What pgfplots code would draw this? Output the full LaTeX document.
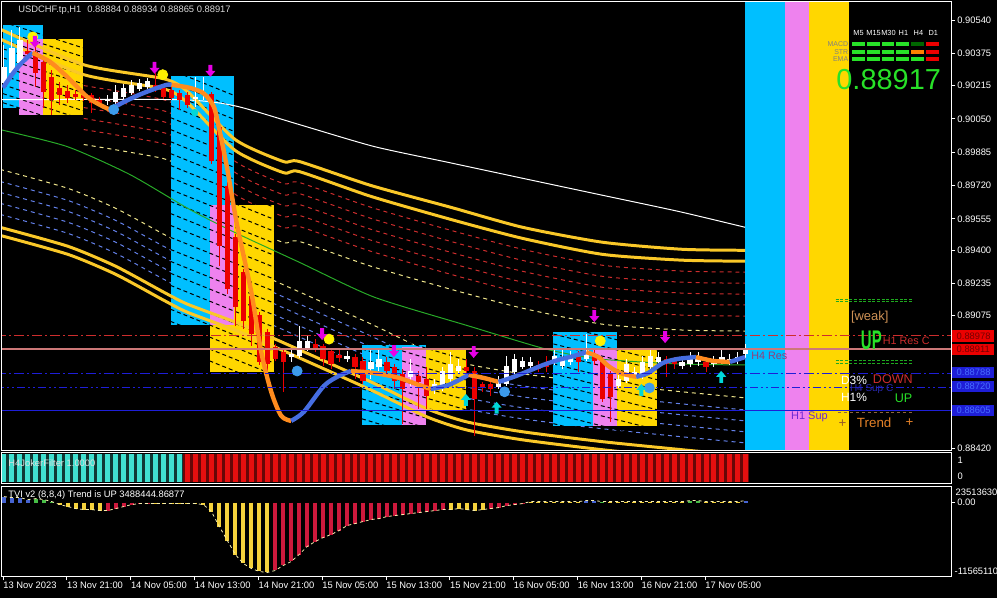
\documentclass[border=0pt]{standalone}
\usepackage{fontspec}
\setmainfont{Liberation Sans}
\usepackage{graphicx}
\usepackage{pgfplots}
\usepackage{pgfplotstable}
\pgfplotsset{compat=1.18}

\definecolor{bxc}{RGB}{0,191,255}
\definecolor{bxv}{RGB}{238,130,238}
\definecolor{bxy}{RGB}{255,215,0}
\definecolor{ythk}{RGB}{250,200,40}
\definecolor{cred}{RGB}{235,0,0}
\definecolor{amag}{RGB}{230,0,230}
\definecolor{mablue}{RGB}{70,110,225}
\definecolor{maorng}{RGB}{255,140,30}
\definecolor{rdash}{RGB}{205,45,45}
\definecolor{bdash}{RGB}{100,130,235}
\definecolor{ydash}{RGB}{240,230,140}
\definecolor{mgrn}{RGB}{40,170,40}
\definecolor{rosy}{RGB}{205,120,120}
\definecolor{lblue}{RGB}{30,30,215}
\definecolor{lgrn}{RGB}{40,225,40}
\definecolor{turq}{RGB}{64,224,208}
\definecolor{jred}{RGB}{230,15,15}
\definecolor{tyel}{RGB}{245,210,60}
\definecolor{tred}{RGB}{205,25,60}
\definecolor{tblu}{RGB}{70,100,210}
\definecolor{tgrn}{RGB}{70,190,70}
\definecolor{dotb}{RGB}{60,155,235}
\definecolor{acyan}{RGB}{0,215,215}
\definecolor{brdash}{RGB}{140,100,60}
\definecolor{weakc}{RGB}{205,145,85}
\definecolor{h4res}{RGB}{150,60,120}
\definecolor{h4sup}{RGB}{40,40,170}
\definecolor{h1sup}{RGB}{110,40,210}
\definecolor{trendc}{RGB}{230,130,40}
\definecolor{plusdim}{RGB}{150,90,40}
\definecolor{tagblue}{RGB}{70,110,255}

\newcommand\sm{\fontsize{4.7}{5.5}\selectfont}

\pgfdeclareplotmark{darrow}{%
  \pgfpathmoveto{\pgfpoint{-0.32\pgfplotmarksize}{\pgfplotmarksize}}%
  \pgfpathlineto{\pgfpoint{0.32\pgfplotmarksize}{\pgfplotmarksize}}%
  \pgfpathlineto{\pgfpoint{0.32\pgfplotmarksize}{0pt}}%
  \pgfpathlineto{\pgfpoint{0.85\pgfplotmarksize}{0pt}}%
  \pgfpathlineto{\pgfpoint{0pt}{-\pgfplotmarksize}}%
  \pgfpathlineto{\pgfpoint{-0.85\pgfplotmarksize}{0pt}}%
  \pgfpathlineto{\pgfpoint{-0.32\pgfplotmarksize}{0pt}}%
  \pgfpathclose\pgfusepathqfill}
\pgfdeclareplotmark{uarrow}{%
  \pgfpathmoveto{\pgfpoint{-0.32\pgfplotmarksize}{-\pgfplotmarksize}}%
  \pgfpathlineto{\pgfpoint{0.32\pgfplotmarksize}{-\pgfplotmarksize}}%
  \pgfpathlineto{\pgfpoint{0.32\pgfplotmarksize}{0pt}}%
  \pgfpathlineto{\pgfpoint{0.85\pgfplotmarksize}{0pt}}%
  \pgfpathlineto{\pgfpoint{0pt}{\pgfplotmarksize}}%
  \pgfpathlineto{\pgfpoint{-0.85\pgfplotmarksize}{0pt}}%
  \pgfpathlineto{\pgfpoint{-0.32\pgfplotmarksize}{0pt}}%
  \pgfpathclose\pgfusepathqfill}

% up (white) candles: body low/high, wick low/high
\pgfplotstableread{
i bl bt wl wh
0 0.90229 0.90308 0.90204 0.90417
1 0.90278 0.90402 0.90254 0.90491
2 0.90328 0.90441 0.90313 0.90506
13 0.90140 0.90150 0.90120 0.90170
14 0.90135 0.90185 0.90125 0.90219
15 0.90160 0.90204 0.90150 0.90224
16 0.90180 0.90219 0.90170 0.90244
17 0.90199 0.90229 0.90189 0.90249
18 0.90209 0.90239 0.90199 0.90254
24 0.90150 0.90160 0.90110 0.90259
25 0.90175 0.90185 0.90145 0.90259
36 0.88870 0.88885 0.88846 0.88910
37 0.88875 0.88950 0.88866 0.89024
38 0.88910 0.88950 0.88900 0.88974
43 0.88861 0.88875 0.88846 0.88900
46 0.88811 0.88846 0.88762 0.88910
47 0.88821 0.88861 0.88801 0.88910
51 0.88772 0.88801 0.88727 0.88861
54 0.88712 0.88737 0.88688 0.88762
55 0.88727 0.88801 0.88703 0.88821
56 0.88762 0.88836 0.88747 0.88895
57 0.88801 0.88826 0.88787 0.88861
62 0.88722 0.88752 0.88712 0.88777
63 0.88737 0.88826 0.88727 0.88875
64 0.88796 0.88861 0.88787 0.88885
65 0.88821 0.88851 0.88811 0.88870
66 0.88826 0.88846 0.88811 0.88870
69 0.88846 0.88875 0.88831 0.88910
70 0.88826 0.88861 0.88811 0.88910
71 0.88846 0.88875 0.88831 0.88900
73 0.88861 0.88910 0.88851 0.88984
77 0.88727 0.88762 0.88717 0.88782
78 0.88752 0.88836 0.88742 0.88861
79 0.88772 0.88796 0.88762 0.88821
80 0.88777 0.88846 0.88762 0.88875
81 0.88821 0.88875 0.88811 0.88910
82 0.88846 0.88870 0.88831 0.88895
85 0.88826 0.88846 0.88811 0.88870
86 0.88836 0.88861 0.88821 0.88895
87 0.88846 0.88861 0.88826 0.88895
89 0.88836 0.88851 0.88821 0.88875
90 0.88851 0.88870 0.88836 0.88910
91 0.88846 0.88861 0.88831 0.88885
92 0.88851 0.88870 0.88836 0.88895
93 0.88884 0.88917 0.88865 0.88934
}\upc

% down (red) candles
\pgfplotstableread{
i bl bt wl wh
3 0.90372 0.90387 0.90343 0.90441
4 0.90278 0.90382 0.90209 0.90441
5 0.90185 0.90333 0.90106 0.90352
6 0.90145 0.90259 0.90071 0.90293
7 0.90170 0.90204 0.90120 0.90234
8 0.90155 0.90189 0.90130 0.90219
9 0.90160 0.90175 0.90145 0.90194
10 0.90155 0.90170 0.90140 0.90185
11 0.90130 0.90170 0.90081 0.90180
12 0.90130 0.90145 0.90115 0.90160
19 0.90209 0.90219 0.90185 0.90278
20 0.90160 0.90204 0.90150 0.90224
21 0.90155 0.90194 0.90145 0.90214
22 0.90145 0.90180 0.90096 0.90194
23 0.90120 0.90170 0.90106 0.90185
26 0.89839 0.90175 0.89824 0.90185
27 0.89419 0.90012 0.89320 0.90022
28 0.89206 0.89715 0.89182 0.89735
29 0.89118 0.89463 0.89024 0.89478
30 0.89048 0.89290 0.89009 0.89305
31 0.88984 0.89172 0.88925 0.89182
32 0.88846 0.89078 0.88831 0.89093
33 0.88836 0.88994 0.88777 0.89009
34 0.88861 0.88920 0.88851 0.88935
35 0.88846 0.88895 0.88698 0.88910
39 0.88910 0.88935 0.88895 0.88959
40 0.88861 0.88925 0.88826 0.88935
41 0.88836 0.88900 0.88811 0.88910
42 0.88866 0.88880 0.88846 0.88910
44 0.88821 0.88870 0.88762 0.88885
45 0.88752 0.88851 0.88737 0.88870
48 0.88801 0.88846 0.88787 0.88870
49 0.88752 0.88821 0.88712 0.88836
50 0.88712 0.88787 0.88540 0.88811
52 0.88747 0.88777 0.88614 0.88801
53 0.88678 0.88762 0.88614 0.88821
58 0.88801 0.88821 0.88787 0.88861
59 0.88663 0.88801 0.88480 0.88821
60 0.88722 0.88737 0.88698 0.88747
61 0.88712 0.88737 0.88678 0.88747
67 0.88811 0.88831 0.88796 0.88851
68 0.88821 0.88836 0.88796 0.88875
72 0.88846 0.88870 0.88796 0.88900
74 0.88851 0.88875 0.88831 0.88910
75 0.88663 0.88851 0.88648 0.88870
76 0.88673 0.88787 0.88549 0.88801
83 0.88836 0.88861 0.88772 0.88875
84 0.88836 0.88851 0.88811 0.88870
88 0.88821 0.88846 0.88796 0.88870
}\dnc

% upper envelope: thick A,B and dashed levels
\pgfplotstableread{
x A B R1 R2 R3 R4 R5 F
-0.5 0.90495 0.90446 nan nan nan nan nan nan
10 0.90318 0.90269 0.90215 0.90160 0.90106 0.90052 0.89997 0.89923
20 0.90249 0.90199 0.90145 0.90090 0.90036 0.89982 0.89927 0.89853
23 0.90185 0.90130 0.90076 0.90021 0.89967 0.89913 0.89858 0.89784
29 0.89947 0.89893 0.89839 0.89784 0.89730 0.89676 0.89621 0.89547
35 0.89839 0.89784 0.89730 0.89675 0.89621 0.89567 0.89512 0.89438
37 0.89839 0.89789 0.89735 0.89680 0.89626 0.89572 0.89517 0.89443
46 0.89720 0.89666 0.89612 0.89557 0.89503 0.89449 0.89394 0.89320
56 0.89612 0.89552 0.89498 0.89443 0.89389 0.89335 0.89280 0.89206
65 0.89513 0.89458 0.89404 0.89349 0.89295 0.89241 0.89186 0.89112
75 0.89439 0.89379 0.89325 0.89270 0.89216 0.89162 0.89107 0.89033
85 0.89404 0.89350 0.89296 0.89241 0.89187 0.89133 0.89078 0.89004
92.9 0.89399 0.89345 0.89291 0.89236 0.89182 0.89128 0.89073 0.88999
}\upch

% lower envelope
\pgfplotstableread{
x E B1 B2 B3 B4 C D
-0.5 0.89800 0.89740 0.89686 0.89632 0.89577 0.89513 0.89473
8 0.89706 0.89646 0.89592 0.89538 0.89483 0.89419 0.89379
14 0.89607 0.89547 0.89493 0.89439 0.89384 0.89320 0.89280
20 0.89479 0.89419 0.89365 0.89311 0.89256 0.89192 0.89152
23 0.89419 0.89359 0.89305 0.89251 0.89196 0.89132 0.89092
29 0.89330 0.89270 0.89216 0.89162 0.89107 0.89043 0.89003
34 0.89246 0.89186 0.89132 0.89078 0.89023 0.88959 0.88919
46 0.89034 0.88974 0.88920 0.88866 0.88811 0.88747 0.88707
53 0.88901 0.88841 0.88787 0.88733 0.88678 0.88614 0.88574
58 0.88836 0.88776 0.88722 0.88668 0.88613 0.88549 0.88509
65 0.88787 0.88727 0.88673 0.88619 0.88564 0.88500 0.88460
75 0.88738 0.88678 0.88624 0.88570 0.88515 0.88451 0.88411
85 0.88698 0.88638 0.88584 0.88530 0.88475 0.88411 0.88371
92.9 0.88668 0.88608 0.88554 0.88500 0.88445 0.88381 0.88341
}\lowch

% TVI histogram, c: 1 yellow 2 red 3 blue 4 green
\pgfplotstableread{
i v c
0 991000 3
1 826000 3
2 826000 3
3 496000 3
4 661000 4
5 496000 4
6 165000 4
7 -330000 1
8 -661000 1
9 -991000 1
10 -1157000 1
11 -1157000 1
12 -1322000 1
13 -1322000 2
14 -991000 2
15 -661000 2
16 -330000 2
17 -165000 2
18 -165000 2
19 -165000 1
20 -165000 1
21 -165000 1
22 -165000 1
23 -165000 1
24 -165000 1
25 -330000 1
26 -1487000 1
27 -3965000 1
28 -6278000 1
29 -8591000 1
30 -10078000 1
31 -10904000 1
32 -11400000 1
33 -11565110 1
34 -11235000 2
35 -10409000 2
36 -9748000 2
37 -8591000 2
38 -7270000 2
39 -6443000 2
40 -5783000 2
41 -5287000 2
42 -4626000 2
43 -3800000 2
44 -3470000 2
45 -3139000 2
46 -2809000 2
47 -2643000 2
48 -2313000 2
49 -2148000 2
50 -1983000 2
51 -1817000 2
52 -1652000 2
53 -1487000 2
54 -1322000 2
55 -1157000 2
56 -1157000 1
57 -991000 1
58 -1157000 1
59 -1322000 1
60 -1157000 1
61 -991000 2
62 -826000 2
63 -496000 2
64 -330000 2
65 -165000 2
66 165000 1
67 165000 1
68 165000 1
69 165000 1
70 165000 1
71 165000 1
72 165000 1
73 330000 3
74 330000 3
75 165000 4
76 165000 1
77 165000 1
78 165000 1
79 165000 1
80 165000 1
81 165000 1
82 165000 1
83 165000 1
84 165000 1
85 165000 1
86 330000 4
87 330000 4
88 165000 1
89 165000 1
90 165000 1
91 165000 1
92 165000 1
93 330000 3
}\tvi

\pgfplotsset{mtpanel/.style={anchor=north west, scale only axis, width=476pt,
  xmin=-0.25, xmax=118.75, axis line style={white, line width=0.5pt},
  axis on top}}

\begin{document}
\begin{tikzpicture}
\fill[black] (0,0) rectangle (500pt,-300pt);

%%%%%%%% main price panel
\begin{axis}[mtpanel, at={(1pt,-1pt)}, height=225pt,
  ymin=0.88406, ymax=0.90629, unbounded coords=jump,
  xtick=\empty, ytick pos=right, yticklabel pos=right,
  ytick={0.88420,0.88585,0.88750,0.88915,0.89075,0.89235,0.89400,0.89555,0.89720,0.89885,0.90050,0.90215,0.90375,0.90540},
  yticklabels={0.88420,,,,0.89075,0.89235,0.89400,0.89555,0.89720,0.89885,0.90050,0.90215,0.90375,0.90540},
  tick align=outside, major tick length=2pt,
  ytick style={white, line width=0.4pt},
  yticklabel style={text=white, font=\sm, inner sep=0.8pt}]

% dashed envelope levels
\pgfplotsinvokeforeach{R1,R2,R3,R4,R5}{
  \addplot[rdash, line width=0.5pt, dash pattern=on 2pt off 2pt, smooth, tension=0.4] table[x=x, y=#1] {\upch};}
\addplot[ydash, line width=0.5pt, dash pattern=on 2pt off 2pt, smooth, tension=0.4] table[x=x, y=F] {\upch};
\addplot[ydash, line width=0.5pt, dash pattern=on 2pt off 2pt, smooth, tension=0.4] table[x=x, y=E] {\lowch};
\pgfplotsinvokeforeach{B1,B2,B3,B4}{
  \addplot[bdash, line width=0.5pt, dash pattern=on 2pt off 2pt, smooth, tension=0.4] table[x=x, y=#1] {\lowch};}

% boxes
\addplot[fill=bxc, draw=none] coordinates {(-0.125,0.90515) (4.875,0.90515) (4.875,0.90106) (-0.125,0.90106)};
\addplot[fill=bxy, draw=none] coordinates {(1.875,0.90446) (9.875,0.90446) (9.875,0.90071) (1.875,0.90071)};
\addplot[fill=bxv, draw=none] coordinates {(1.875,0.90446) (4.875,0.90446) (4.875,0.90071) (1.875,0.90071)};
\addplot[fill=bxc, draw=none] coordinates {(20.875,0.90264) (28.875,0.90264) (28.875,0.89029) (20.875,0.89029)};
\addplot[fill=bxy, draw=none] coordinates {(25.875,0.89621) (33.875,0.89621) (33.875,0.88796) (25.875,0.88796)};
\addplot[fill=bxv, draw=none] coordinates {(25.875,0.89621) (28.875,0.89621) (28.875,0.89029) (25.875,0.89029)};
\addplot[fill=bxc, draw=none] coordinates {(44.875,0.88930) (52.875,0.88930) (52.875,0.88535) (44.875,0.88535)};
\addplot[fill=bxy, draw=none] coordinates {(49.875,0.88915) (57.875,0.88915) (57.875,0.88609) (49.875,0.88609)};
\addplot[fill=bxv, draw=none] coordinates {(49.875,0.88920) (52.875,0.88920) (52.875,0.88535) (49.875,0.88535)};
\addplot[fill=bxc, draw=none] coordinates {(68.875,0.88994) (76.875,0.88994) (76.875,0.88530) (68.875,0.88530)};
\addplot[fill=bxy, draw=none] coordinates {(73.875,0.88910) (81.875,0.88910) (81.875,0.88530) (73.875,0.88530)};
\addplot[fill=bxv, draw=none] coordinates {(73.875,0.88910) (76.875,0.88910) (76.875,0.88530) (73.875,0.88530)};
% right-hand bands
\addplot[fill=bxc, draw=none] coordinates {(92.875,0.8830) (97.875,0.8830) (97.875,0.9070) (92.875,0.9070)};
\addplot[fill=bxv, draw=none] coordinates {(97.875,0.8830) (100.875,0.8830) (100.875,0.9070) (97.875,0.9070)};
\addplot[fill=bxy, draw=none] coordinates {(100.875,0.8830) (105.875,0.8830) (105.875,0.9070) (100.875,0.9070)};

% dark level lines inside the boxes
\addplot[black, line width=0.5pt, dash pattern=on 2pt off 1.5pt] coordinates {
(-0.125,0.90530) (9.875,0.90402) (0,nan) (-0.125,0.90486) (9.875,0.90358) (0,nan)
(-0.125,0.90441) (9.875,0.90313) (0,nan) (-0.125,0.90397) (9.875,0.90269) (0,nan)
(-0.125,0.90352) (9.875,0.90224) (0,nan) (-0.125,0.90308) (9.875,0.90180) (0,nan)
(-0.125,0.90264) (9.875,0.90136) (0,nan) (-0.125,0.90219) (9.875,0.90091) (0,nan)
(-0.125,0.90175) (9.875,0.90047) (0,nan) (-0.125,0.90130) (9.875,0.90002)};
\addplot[black, line width=0.5pt, dash pattern=on 2pt off 1.5pt] coordinates {
(20.875,0.90293) (33.875,0.90086) (0,nan) (20.875,0.90234) (33.875,0.90027) (0,nan)
(20.875,0.90175) (33.875,0.89968) (0,nan) (20.875,0.90115) (33.875,0.89908) (0,nan)
(20.875,0.90056) (33.875,0.89849) (0,nan) (20.875,0.89997) (33.875,0.89790) (0,nan)
(20.875,0.89937) (33.875,0.89730) (0,nan) (20.875,0.89878) (33.875,0.89671) (0,nan)
(20.875,0.89819) (33.875,0.89612) (0,nan) (20.875,0.89759) (33.875,0.89552) (0,nan)
(20.875,0.89700) (33.875,0.89493) (0,nan) (20.875,0.89641) (33.875,0.89434) (0,nan)
(20.875,0.89581) (33.875,0.89374) (0,nan) (20.875,0.89522) (33.875,0.89315) (0,nan)
(20.875,0.89463) (33.875,0.89256) (0,nan) (20.875,0.89403) (33.875,0.89196) (0,nan)
(20.875,0.89344) (33.875,0.89137) (0,nan) (20.875,0.89285) (33.875,0.89078) (0,nan)
(20.875,0.89225) (33.875,0.89018) (0,nan) (20.875,0.89166) (33.875,0.88959) (0,nan)
(20.875,0.89107) (33.875,0.88900) (0,nan) (20.875,0.89047) (33.875,0.88840) (0,nan)
(20.875,0.88988) (33.875,0.88781) (0,nan) (20.875,0.88929) (33.875,0.88722)};
\addplot[black, line width=0.5pt, dash pattern=on 2pt off 1.5pt] coordinates {
(44.875,0.89009) (57.875,0.88856) (0,nan) (44.875,0.88960) (57.875,0.88807) (0,nan)
(44.875,0.88910) (57.875,0.88757) (0,nan) (44.875,0.88861) (57.875,0.88708) (0,nan)
(44.875,0.88811) (57.875,0.88658) (0,nan) (44.875,0.88762) (57.875,0.88609) (0,nan)
(44.875,0.88713) (57.875,0.88560) (0,nan) (44.875,0.88663) (57.875,0.88510) (0,nan)
(44.875,0.88614) (57.875,0.88461) (0,nan) (44.875,0.88564) (57.875,0.88411)};
\addplot[black, line width=0.5pt, dash pattern=on 2pt off 1.5pt] coordinates {
(68.875,0.89034) (81.875,0.88906) (0,nan) (68.875,0.88984) (81.875,0.88856) (0,nan)
(68.875,0.88935) (81.875,0.88807) (0,nan) (68.875,0.88886) (81.875,0.88758) (0,nan)
(68.875,0.88836) (81.875,0.88708) (0,nan) (68.875,0.88787) (81.875,0.88659) (0,nan)
(68.875,0.88737) (81.875,0.88609) (0,nan) (68.875,0.88688) (81.875,0.88560) (0,nan)
(68.875,0.88638) (81.875,0.88510) (0,nan) (68.875,0.88589) (81.875,0.88461) (0,nan)
(68.875,0.88540) (81.875,0.88412)};

% moving averages
\addplot[white, line width=0.5pt, smooth, tension=0.4] coordinates {(-0.5,0.90145) (22,0.90145) (28.9,0.90115) (37,0.90022) (46.4,0.89913) (55.75,0.89834) (64.5,0.89760) (74.5,0.89676) (84.5,0.89592) (92.9,0.89513)};
\addplot[mgrn, line width=0.5pt, smooth, tension=0.4] coordinates {(-0.5,0.89997) (7.9,0.89913) (15.75,0.89775) (23.25,0.89602) (28.9,0.89488) (37,0.89340) (46.4,0.89167) (58.25,0.89024) (67.9,0.88910) (74.5,0.88861) (84.5,0.88836) (92.9,0.88831)};
\pgfplotsinvokeforeach{A,B}{
  \addplot[ythk, line width=1.5pt, smooth, tension=0.4] table[x=x, y=#1] {\upch};}
\pgfplotsinvokeforeach{C,D}{
  \addplot[ythk, line width=1.5pt, smooth, tension=0.4] table[x=x, y=#1] {\lowch};}

% candles
\addplot[draw=none, mark=none, error bars/.cd, y dir=plus, y explicit, error mark=none,
  error bar style={draw=white, line width=0.5pt, solid}] table[x=i, y=wl, y error expr=\thisrow{wh}-\thisrow{wl}] {\upc};
\addplot[draw=none, mark=none, error bars/.cd, y dir=plus, y explicit, error mark=none,
  error bar style={draw=white, line width=2.6pt, solid}] table[x=i, y=bl, y error expr=\thisrow{bt}-\thisrow{bl}] {\upc};
\addplot[draw=none, mark=none, error bars/.cd, y dir=plus, y explicit, error mark=none,
  error bar style={draw=cred, line width=0.5pt, solid}] table[x=i, y=wl, y error expr=\thisrow{wh}-\thisrow{wl}] {\dnc};
\addplot[draw=none, mark=none, error bars/.cd, y dir=plus, y explicit, error mark=none,
  error bar style={draw=cred, line width=2.6pt, solid}] table[x=i, y=bl, y error expr=\thisrow{bt}-\thisrow{bl}] {\dnc};

% two-colour trend line
\addplot[mablue, line width=2.2pt, smooth] coordinates {(-0.125,0.90204) (1,0.90269) (2,0.90318) (3,0.90357) (3.6,0.90377)};
\addplot[maorng, line width=2.2pt, smooth] coordinates {(3.6,0.90377) (5.75,0.90333) (7.9,0.90259) (10.4,0.90160) (12,0.90120) (13.25,0.90096)};
\addplot[mablue, line width=2.2pt, smooth] coordinates {(13.25,0.90096) (15.1,0.90135) (17,0.90170) (18.9,0.90199) (20.4,0.90219) (21,0.90219)};
\addplot[maorng, line width=2.2pt, smooth] coordinates {(21,0.90219) (23.25,0.90204) (24.9,0.90180) (25.75,0.90145) (26.4,0.90100) (27,0.89997) (28,0.89799) (29.25,0.89518) (31,0.89192) (32.25,0.88895) (33.5,0.88698) (34.75,0.88579) (36,0.88554)};
\addplot[mablue, line width=2.2pt, smooth] coordinates {(36,0.88554) (37.6,0.88599) (40.1,0.88727) (42,0.88777) (43.5,0.88801)};
\addplot[maorng, line width=2.2pt, smooth] coordinates {(43.5,0.88801) (46.4,0.88791) (49.5,0.88767) (52,0.88732) (53.5,0.88712)};
\addplot[mablue, line width=2.2pt, smooth] coordinates {(53.5,0.88712) (55.75,0.88732) (58.25,0.88782)};
\addplot[maorng, line width=2.2pt, smooth] coordinates {(58.25,0.88782) (60.1,0.88767) (62,0.88747)};
\addplot[mablue, line width=2.2pt, smooth] coordinates {(62,0.88747) (63.9,0.88772) (65.75,0.88801) (67.6,0.88831) (69.5,0.88856) (71.4,0.88875) (73,0.88895)};
\addplot[maorng, line width=2.2pt, smooth] coordinates {(73,0.88895) (74.5,0.88870) (75.75,0.88826) (77.25,0.88791) (79.25,0.88772)};
\addplot[mablue, line width=2.2pt, smooth] coordinates {(79.25,0.88772) (80.75,0.88791) (82.6,0.88841) (84.5,0.88861) (86.75,0.88870)};
\addplot[maorng, line width=2.2pt, smooth] coordinates {(86.75,0.88870) (88.9,0.88851) (91,0.88846)};
\addplot[mablue, line width=2.2pt, smooth] coordinates {(91,0.88846) (92.9,0.88870)};

% signals
\addplot[only marks, mark=*, mark size=2.5pt, yellow] coordinates {(3.6,0.90456) (19.9,0.90269) (40.75,0.88959) (74.75,0.88950)};
\addplot[only marks, mark=*, mark size=2.5pt, dotb] coordinates {(13.75,0.90096) (36.75,0.88801) (62.75,0.88698) (80.9,0.88717)};
\addplot[only marks, mark=*, mark size=1.6pt, acyan] coordinates {(23.9,0.90081)};
\addplot[only marks, mark=darrow, mark size=3pt, amag] coordinates {(3.875,0.90432) (18.875,0.90303) (25.875,0.90288) (39.875,0.88984) (48.875,0.88900) (58.875,0.88895) (74,0.89073) (82.875,0.88969)};
\addplot[only marks, mark=uarrow, mark size=3pt, acyan] coordinates {(57.9,0.88658) (61.75,0.88619) (79.9,0.88707) (89.9,0.88772)};

% horizontal levels
\addplot[rdash, line width=0.6pt, dash pattern=on 5pt off 1.5pt on 1pt off 1.5pt] coordinates {(-1,0.88978) (120,0.88978)};
\addplot[rosy, line width=1pt] coordinates {(-1,0.88911) (120,0.88911)};
\addplot[lblue, line width=0.6pt, dash pattern=on 5pt off 1.5pt on 1pt off 1.5pt] coordinates {(-1,0.88788) (120,0.88788)};
\addplot[lblue, line width=0.6pt, dash pattern=on 4pt off 1.5pt on 1pt off 1.5pt on 1pt off 1.5pt] coordinates {(-1,0.88720) (120,0.88720)};
\addplot[lblue, line width=0.8pt] coordinates {(-1,0.88605) (120,0.88605)};
\end{axis}

%%%%%%%% filter panel
\begin{axis}[mtpanel, at={(1pt,-227pt)}, height=15.5pt, ymin=-0.07, ymax=1.05,
  xtick=\empty, ytick=\empty]
\addplot[fill=turq!25!black, draw=none] coordinates {(-0.5,0) (22.5,0) (22.5,1) (-0.5,1)};
\addplot[fill=jred!45!black, draw=none] coordinates {(22.5,0) (93.4,0) (93.4,1) (22.5,1)};
\addplot[ycomb, turq, line width=2.5pt] coordinates {(0,1) (1,1) (2,1) (3,1) (4,1) (5,1) (6,1) (7,1) (8,1) (9,1) (10,1) (11,1) (12,1) (13,1) (14,1) (15,1) (16,1) (17,1) (18,1) (19,1) (20,1) (21,1) (22,1)};
\addplot[ycomb, jred, line width=2.5pt] coordinates {(23,1) (24,1) (25,1) (26,1) (27,1) (28,1) (29,1) (30,1) (31,1) (32,1) (33,1) (34,1) (35,1) (36,1) (37,1) (38,1) (39,1) (40,1) (41,1) (42,1) (43,1) (44,1) (45,1) (46,1) (47,1) (48,1) (49,1) (50,1) (51,1) (52,1) (53,1) (54,1) (55,1) (56,1) (57,1) (58,1) (59,1) (60,1) (61,1) (62,1) (63,1) (64,1) (65,1) (66,1) (67,1) (68,1) (69,1) (70,1) (71,1) (72,1) (73,1) (74,1) (75,1) (76,1) (77,1) (78,1) (79,1) (80,1) (81,1) (82,1) (83,1) (84,1) (85,1) (86,1) (87,1) (88,1) (89,1) (90,1) (91,1) (92,1) (93,1)};
\end{axis}

%%%%%%%% TVI panel
\begin{axis}[mtpanel, at={(1pt,-244pt)}, height=45pt, ymin=-12210000, ymax=2640000,
  scaled y ticks=false,
  xtick={-0.125,7.875,15.875,23.875,31.875,39.875,47.875,55.875,63.875,71.875,79.875,87.875},
  xticklabels={13 Nov 2023,13 Nov 21:00,14 Nov 05:00,14 Nov 13:00,14 Nov 21:00,15 Nov 05:00,15 Nov 13:00,15 Nov 21:00,16 Nov 05:00,16 Nov 13:00,16 Nov 21:00,17 Nov 05:00},
  xtick pos=left, ytick={0}, yticklabels={0.00}, ytick pos=right, yticklabel pos=right,
  tick align=outside, major tick length=2pt, tick style={white, line width=0.4pt},
  xticklabel style={anchor=north west, text=white, font=\sm, inner sep=0.6pt, xshift=-0.6pt},
  yticklabel style={text=white, font=\sm, inner sep=0.8pt}]
\addplot[ycomb, tyel, line width=2pt, restrict expr to domain={\thisrow{c}}{1:1}] table[x=i, y=v] {\tvi};
\addplot[ycomb, tred, line width=2pt, restrict expr to domain={\thisrow{c}}{2:2}] table[x=i, y=v] {\tvi};
\addplot[ycomb, tblu, line width=2pt, restrict expr to domain={\thisrow{c}}{3:3}] table[x=i, y=v] {\tvi};
\addplot[ycomb, tgrn, line width=2pt, restrict expr to domain={\thisrow{c}}{4:4}] table[x=i, y=v] {\tvi};
\addplot[ydash!70!white, line width=0.4pt, dash pattern=on 1.5pt off 1.5pt] table[x=i, y=v] {\tvi};
\end{axis}

%%%%%%%% labels and panels drawn in pixel units (origin top left)
\begin{scope}[x=0.5pt, y=-0.5pt, every node/.style={inner sep=0pt, font=\sm}]
\node[anchor=west, text=white!85!black] at (18,10) {USDCHF.tp,H1\hspace{3pt}0.88884 0.88934 0.88865 0.88917};
% MTF table
\foreach \lab/\xx in {M5/861,M15/876,M30/891,H1/906,H4/921,D1/936}
  \node[text=white, font=\fontsize{3.7}{4}\selectfont] at (\xx,33) {\lab};
\foreach \k in {0,...,3} {
  \fill[lgrn] (854+15*\k,42) rectangle (867+15*\k,46);
  \fill[lgrn] (854+15*\k,50) rectangle (867+15*\k,54);
  \fill[lgrn] (854+15*\k,57.5) rectangle (867+15*\k,61.5);}
\fill[green!40!black] (914,42) rectangle (927,46);
\fill[orange] (914,50) rectangle (927,54);
\fill[lgrn] (914,57.5) rectangle (927,61.5);
\fill[cred] (929,42) rectangle (942,46);
\fill[cred] (929,50) rectangle (942,54);
\fill[cred] (929,57.5) rectangle (942,61.5);
\node[anchor=east, text=gray, font=\fontsize{3.5}{4}\selectfont] at (851,44) {MACD};
\node[anchor=east, text=gray, font=\fontsize{3.5}{4}\selectfont] at (851,52) {STR};
\node[anchor=east, text=gray, font=\fontsize{3.5}{4}\selectfont] at (851,59.5) {EMA};
\node[anchor=east, text=lgrn, font=\fontsize{14.5}{15}\selectfont] at (944,80) {0.88917};
% strength labels
\draw[lgrn!75!black, line width=0.5pt, dash pattern=on 1.5pt off 0.8pt] (838,300) -- (916,300) (838,302.5) -- (916,302.5);
\draw[lgrn!75!black, line width=0.5pt, dash pattern=on 1.5pt off 0.8pt] (838,362) -- (916,362) (838,364.5) -- (916,364.5);
\node[anchor=west, text=weakc, font=\fontsize{6.5}{7}\selectfont] at (853,318) {[weak]};
\node[anchor=west, text=lgrn, font=\fontsize{7.5}{8}\bfseries] at (863,341) {\scalebox{1}[1.8]{UP}};
\node[anchor=west, text=rdash, font=\fontsize{5.4}{6}\selectfont] at (885,342) {H1 Res C};
\node[anchor=west, text=h4res, font=\fontsize{5.4}{6}\selectfont] at (753,357) {H4 Res};
\node[anchor=west, text=h4sup, font=\fontsize{5}{6}\selectfont] at (852,390) {H4 Sup C};
\node[anchor=west, text=white, font=\fontsize{6}{7}\selectfont] at (843,381) {D3\%};
\node[anchor=west, text=rdash, font=\fontsize{6.3}{7}\selectfont] at (875,380) {DOWN};
\node[anchor=west, text=white, font=\fontsize{6}{7}\selectfont] at (843,399) {H1\%};
\node[anchor=west, text=lgrn, font=\fontsize{6.3}{7}\selectfont] at (897,399) {UP};
\node[anchor=west, text=h1sup, font=\fontsize{5.5}{6}\selectfont] at (793,418) {H1 Sup};
\draw[brdash, line width=0.5pt, dash pattern=on 1.5pt off 1.5pt] (840,414) -- (916,414);
\node[anchor=west, text=trendc, font=\fontsize{6.7}{7}\selectfont] at (859,424) {Trend};
\node[text=trendc, font=\fontsize{6.7}{7}\selectfont] at (912,424) {+};
\node[text=plusdim, font=\fontsize{6.7}{7}\selectfont] at (845,425) {+};
% price tags on the right scale
\fill[cred] (955,331) rectangle (997,343);
\node[anchor=west, text=black!55!red] at (959,337) {0.88978};
\fill[cred] (955,344.5) rectangle (997,356);
\node[anchor=west, text=black!55!red] at (959,350.5) {0.88911};
\fill[lblue] (955,368) rectangle (997,379);
\node[anchor=west, text=tagblue] at (959,373.5) {0.88788};
\fill[lblue] (955,382) rectangle (997,393);
\node[anchor=west, text=tagblue] at (959,387.5) {0.88720};
\fill[lblue] (955,406) rectangle (997,417);
\node[anchor=west, text=tagblue] at (959,411.5) {0.88605};
% sub-window scales and titles
\node[anchor=west, text=white] at (960,462) {1};
\node[anchor=west, text=white] at (960,478) {0};
\node[anchor=west, text=white] at (958,494) {23513630.};
\node[anchor=west, text=white] at (957,573) {-11565110};
\node[anchor=west, text=white!88!black] at (8,464) {H4JokerFilter 1.0000};
\node[anchor=west, text=white] at (8,496) {TVI v2 (8,8,4) Trend is UP 3488444.86877};
\end{scope}
\end{tikzpicture}
\end{document}
